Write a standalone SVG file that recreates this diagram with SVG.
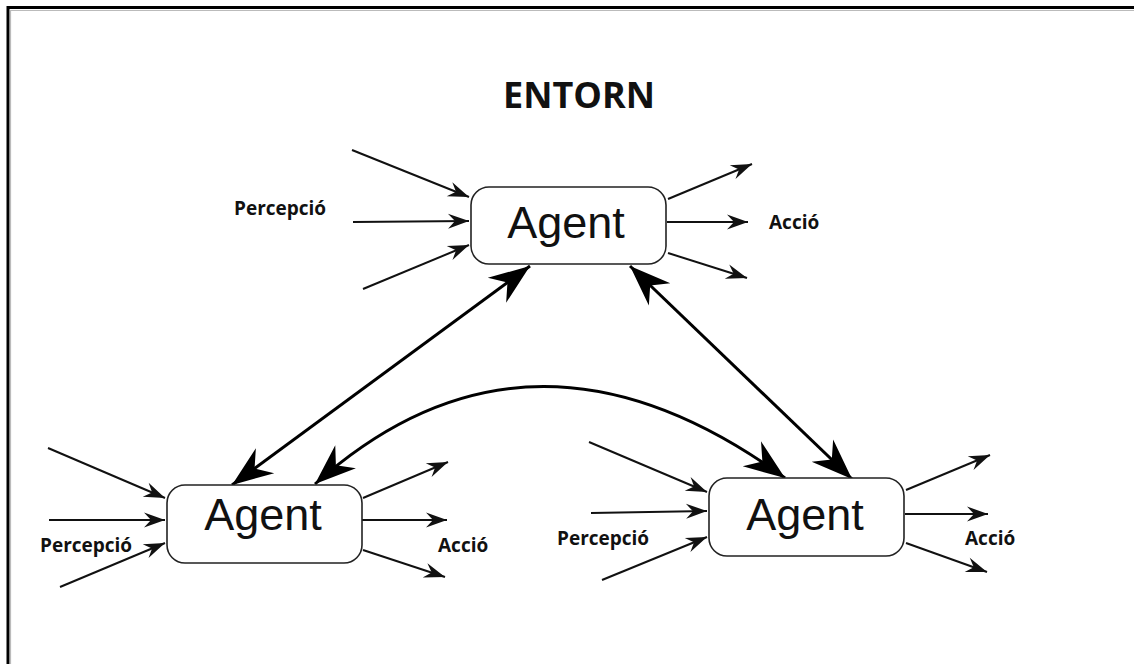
<svg xmlns="http://www.w3.org/2000/svg" width="1134" height="664" viewBox="0 0 1134 664">
<style>
.box{fill:#fff;stroke:#222;stroke-width:1.6}
.agent{font-family:"Liberation Sans",Arial,sans-serif;font-size:45px;fill:#111;text-anchor:middle}
.lbl{font-family:"Open Sans","DejaVu Sans",sans-serif;font-weight:bold;font-size:19px;fill:#111}
.title{font-family:"Open Sans","DejaVu Sans",sans-serif;font-weight:bold;font-size:36px;fill:#111;text-anchor:middle}
.thin{stroke:#111;stroke-width:2;fill:none;marker-end:url(#sm)}
.thick{stroke:#000;stroke-width:3;fill:none;marker-start:url(#big);marker-end:url(#big)}
</style>
<defs>
<marker id="sm" markerUnits="userSpaceOnUse" viewBox="-22 -9 24 18" refX="0" refY="0" markerWidth="24" markerHeight="18" orient="auto">
<path d="M0,0 L-21,-7.5 L-14,0 L-21,7.5 Z" fill="#111"/>
</marker>
<marker id="big" markerUnits="userSpaceOnUse" viewBox="-44 -18 46 36" refX="0" refY="0" markerWidth="46" markerHeight="36" orient="auto-start-reverse">
<path d="M0,0 L-41,-15.5 L-28,0 L-41,15.5 Z" fill="#000"/>
</marker>
</defs>
<rect width="1134" height="664" fill="#fff"/>
<path d="M8,664 V7.5 H1134" fill="none" stroke="#000" stroke-width="3"/>
<path d="M10.5,664 V10.5 H1134" fill="none" stroke="#bbb" stroke-width="1.2"/>
<text class="title" x="579" y="108">ENTORN</text>
<g id="connectors">
<path class="thin" d="M352,150 L469,197"/>
<path class="thin" d="M353,222 L469,221"/>
<path class="thin" d="M363,289 L469,245"/>
<path class="thin" d="M668,199 L752,164"/>
<path class="thin" d="M667,222 L748,222"/>
<path class="thin" d="M668,253 L747,278"/>
<path class="thin" d="M48,448 L165,498"/>
<path class="thin" d="M49,520 L165,520"/>
<path class="thin" d="M60,587 L165,543"/>
<path class="thin" d="M363,498 L448,462"/>
<path class="thin" d="M362,520 L447,520"/>
<path class="thin" d="M363,550 L445,577"/>
<path class="thin" d="M589,442 L707,492"/>
<path class="thin" d="M591,513 L707,511"/>
<path class="thin" d="M602,580 L707,537"/>
<path class="thin" d="M906,490 L990,455"/>
<path class="thin" d="M905,514 L988,514"/>
<path class="thin" d="M906,543 L987,572"/>
<path class="thick" d="M232,485 L530,266"/>
<path class="thick" d="M630,266 L852,479"/>
<path class="thick" d="M315,484 Q530,292 785,478"/>
</g>
<g id="agent-top">
<rect class="box" x="471" y="187" width="195" height="77" rx="18"/>
<text class="agent" x="566" y="238">Agent</text>
</g>
<g id="agent-left">
<rect class="box" x="167" y="485" width="195" height="78" rx="18"/>
<text class="agent" x="263" y="530">Agent</text>
</g>
<g id="agent-right">
<rect class="box" x="709" y="478" width="195" height="78" rx="18"/>
<text class="agent" x="805" y="530">Agent</text>
</g>
<g id="labels">
<text class="lbl" x="234" y="215">Percepció</text>
<text class="lbl" x="769" y="229">Acció</text>
<text class="lbl" x="40" y="552">Percepció</text>
<text class="lbl" x="438" y="552">Acció</text>
<text class="lbl" x="557" y="545">Percepció</text>
<text class="lbl" x="965" y="545">Acció</text>
</g>
</svg>
